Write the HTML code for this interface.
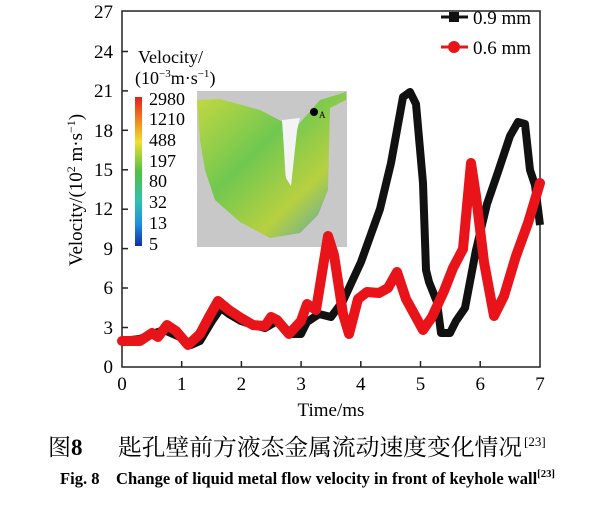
<!DOCTYPE html>
<html><head><meta charset="utf-8"><style>
body{margin:0;background:#fff;}
svg text{font-family:"Liberation Serif","Noto Serif CJK SC",serif;}
</style></head><body>
<svg width="610" height="511" viewBox="0 0 610 511" xmlns="http://www.w3.org/2000/svg">
<defs>
<linearGradient id="cb" x1="0" y1="0" x2="0" y2="1">
<stop offset="0" stop-color="#e02020"/><stop offset="0.15" stop-color="#f08020"/><stop offset="0.3" stop-color="#f0e030"/><stop offset="0.5" stop-color="#50c040"/><stop offset="0.7" stop-color="#30c0b0"/><stop offset="0.85" stop-color="#2090e0"/><stop offset="1" stop-color="#1030a0"/>
</linearGradient>
<linearGradient id="ins" x1="0" y1="0" x2="1" y2="1">
<stop offset="0" stop-color="#c8d840"/><stop offset="0.4" stop-color="#70c850"/><stop offset="0.7" stop-color="#b8d040"/><stop offset="1" stop-color="#40a0c0"/>
</linearGradient>
</defs>
<!-- inset -->
<rect x="197" y="91" width="150" height="156" fill="#c8c8c8"/>
<path d="M197,100 L220,99 L260,110 L283,122 L285,175 L290,185 L296,140 L298,125 L320,100 L346,92 L346,100 L330,108 L328,190 L318,215 L300,233 L270,238 L240,222 L215,200 L205,170 L200,140 Z" fill="url(#ins)"/>
<path d="M282,120 L286,178 L291,186 L297,130 L300,118 Z" fill="#f4f4f4"/>
<circle cx="314" cy="112" r="4" fill="#000"/><text x="319" y="118" font-size="9">A</text>
<rect x="135" y="97" width="7" height="149" fill="url(#cb)"/>
<text x="138" y="63" font-size="18">Velocity/</text>
<text x="135" y="84" font-size="18">(10<tspan font-size="11" dy="-7">−3</tspan><tspan dy="7">m·s</tspan><tspan font-size="11" dy="-7">−1</tspan><tspan dy="7">)</tspan></text>
<g font-size="18">
<text x="149" y="105">2980</text><text x="149" y="125">1210</text><text x="149" y="146">488</text><text x="149" y="167">197</text><text x="149" y="187">80</text><text x="149" y="208">32</text><text x="149" y="229">13</text><text x="149" y="250">5</text>
</g>
<!-- axes -->
<rect x="122" y="11" width="418" height="356" fill="none" stroke="#222" stroke-width="1.5"/>
<g stroke="#222" stroke-width="1.5">
<line x1="181.7" y1="367" x2="181.7" y2="361"/><line x1="241.4" y1="367" x2="241.4" y2="361"/><line x1="301.1" y1="367" x2="301.1" y2="361"/><line x1="360.8" y1="367" x2="360.8" y2="361"/><line x1="420.5" y1="367" x2="420.5" y2="361"/><line x1="480.2" y1="367" x2="480.2" y2="361"/>
<line x1="122" y1="327.5" x2="128" y2="327.5"/><line x1="122" y1="288" x2="128" y2="288"/><line x1="122" y1="248.6" x2="128" y2="248.6"/><line x1="122" y1="209.2" x2="128" y2="209.2"/><line x1="122" y1="169.8" x2="128" y2="169.8"/><line x1="122" y1="130.3" x2="128" y2="130.3"/><line x1="122" y1="90.9" x2="128" y2="90.9"/><line x1="122" y1="51.5" x2="128" y2="51.5"/>
</g>
<g font-size="19" text-anchor="end">
<text x="113" y="373">0</text><text x="113" y="334">3</text><text x="113" y="294">6</text><text x="113" y="255">9</text><text x="113" y="215">12</text><text x="113" y="176">15</text><text x="113" y="137">18</text><text x="113" y="97">21</text><text x="113" y="58">24</text><text x="113" y="18">27</text>
</g>
<g font-size="19" text-anchor="middle">
<text x="122" y="390">0</text><text x="181.7" y="390">1</text><text x="241.4" y="390">2</text><text x="301.1" y="390">3</text><text x="360.8" y="390">4</text><text x="420.5" y="390">5</text><text x="480.2" y="390">6</text><text x="540" y="390">7</text>
<text x="331" y="416">Time/ms</text>
</g>
<text transform="translate(82,190) rotate(-90)" font-size="19" text-anchor="middle">Velocity/(10<tspan font-size="12" dy="-7">2</tspan><tspan dy="7"> m·s</tspan><tspan font-size="12" dy="-7">−1</tspan><tspan dy="7">)</tspan></text>
<!-- black -->
<polyline fill="none" stroke="#111" stroke-width="8" stroke-linejoin="round" points="122,341 140,339 152,334 164,330 182,338 191,345 200,341 212,321 221,308 229,314 241,321 253,325 265,328 277,321 289,334 301,334 307,322 319,314 331,317 343,301 361,262 380,209 391,163 403,97 410,92 416,104 423,183 426,270 429,282 437,302 441,333 450,333 456,321 465,308 476,250 487,204 498,172 510,136 518,122 525,124 530,170 535,185 540,225"/>
<!-- red -->
<polyline fill="none" stroke="#e8141a" stroke-width="10" stroke-linejoin="round" stroke-linecap="round" points="122,341 140,341 152,333 158,337 167,325 176,331 188,345 200,334 209,317 218,301 229,310 241,318 253,325 265,326 271,317 277,320 289,334 301,321 307,304 316,310 328,236 334,255 343,314 349,334 358,299 367,292 379,293 388,288 397,272 406,299 423,330 432,317 444,291 453,268 463,249 471,163 476,196 484,262 494,316 504,296 516,256 528,223 540,183"/>
<!-- legend -->
<line x1="441" y1="17" x2="468" y2="17" stroke="#111" stroke-width="3"/><rect x="449" y="12" width="10" height="10" fill="#111"/>
<text x="473" y="24" font-size="19">0.9 mm</text>
<line x1="441" y1="47" x2="468" y2="47" stroke="#e8141a" stroke-width="3"/><circle cx="454" cy="47" r="6" fill="#e8141a"/>
<text x="473" y="54" font-size="19">0.6 mm</text>
<!-- captions -->
<text x="48" y="455" font-size="23" font-family="'Noto Sans CJK SC',sans-serif">图<tspan font-weight="bold">8</tspan></text>
<text x="118" y="455" font-size="23" font-family="'Noto Sans CJK SC',sans-serif" textLength="404" lengthAdjust="spacingAndGlyphs">匙孔壁前方液态金属流动速度变化情况</text>
<text x="524" y="446" font-size="13">[23]</text>
<text x="60" y="484" font-size="17" font-weight="bold" textLength="495" lengthAdjust="spacingAndGlyphs">Fig. 8　Change of liquid metal flow velocity in front of keyhole wall<tspan font-size="11" dy="-7">[23]</tspan></text>
</svg>
</body></html>
